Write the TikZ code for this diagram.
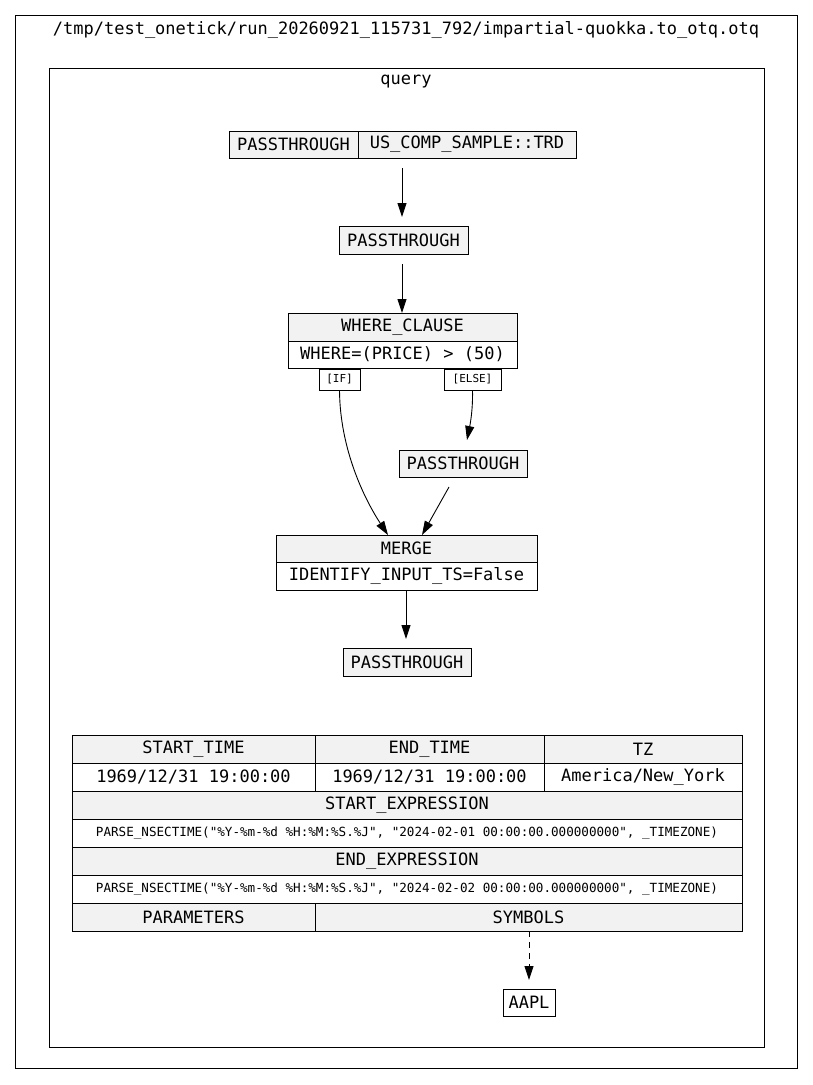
\documentclass[tikz,border=0pt]{standalone}
\usepackage{fontspec}
\setmonofont{DejaVu Sans Mono}
\usetikzlibrary{arrows.meta}
\begin{document}
\begin{tikzpicture}[x=1pt,y=-1pt,
  cell/.style={draw,line width=0.9pt,inner sep=0pt,font=\ttfamily\fontsize{17}{17}\selectfont},
  hd/.style={cell,fill=gray!10},
  wt/.style={cell,fill=white},
  sm/.style={draw,line width=0.9pt,inner sep=0pt,fill=white,font=\ttfamily\fontsize{11}{11}\selectfont},
  arr/.style={line width=0.9pt,-{Triangle[length=14pt,width=9pt]}},
  lbl/.style={font=\ttfamily\fontsize{17}{17}\selectfont}]
\useasboundingbox (0,0) rectangle (813,1085);
\fill[white] (0,0) rectangle (813,1085);
\draw[line width=0.9pt] (15,15) rectangle (797,1068);
\node[lbl] (title) at (406,30) {/tmp/test\_onetick/run\_20260921\_115731\_792/impartial-quokka.to\_otq.otq};
\draw[line width=0.9pt] (49,68) rectangle (764,1047);
\node[lbl] (q) at (406,82) {query};
% node 1
\node[hd,minimum width=129,minimum height=27] (n1a) at (293.5,144.5) {PASSTHROUGH};
\node[hd,minimum width=218,minimum height=27] (n1b) at (467,144.5) {US\_COMP\_SAMPLE::TRD};
\node[hd,minimum width=129,minimum height=28] (p2) at (403.5,240) {PASSTHROUGH};
\node[hd,minimum width=229,minimum height=28] (w1) at (402.5,327) {WHERE\_CLAUSE};
\node[wt,minimum width=229,minimum height=27] (w2) at (402.5,354.5) {WHERE=(PRICE) > (50)};
\node[sm,minimum width=41,minimum height=21] (lif) at (339.5,379.5) {[IF]};
\node[sm,minimum width=57,minimum height=21] (lelse) at (472.5,379.5) {[ELSE]};
\node[hd,minimum width=128,minimum height=27] (p3) at (463,463.5) {PASSTHROUGH};
\node[hd,minimum width=261,minimum height=27] (m1) at (406.5,548.5) {MERGE};
\node[wt,minimum width=261,minimum height=28] (m2) at (406.5,576) {IDENTIFY\_INPUT\_TS=False};
\node[hd,minimum width=128,minimum height=28] (p4) at (407,662) {PASSTHROUGH};
% table
\node[hd,minimum width=243,minimum height=28] (t11) at (193.5,749) {START\_TIME};
\node[hd,minimum width=229,minimum height=28] (t12) at (429.5,749) {END\_TIME};
\node[hd,minimum width=198,minimum height=28] (t13) at (643,749) {TZ};
\node[wt,minimum width=243,minimum height=28] (t21) at (193.5,777) {1969/12/31 19:00:00};
\node[wt,minimum width=229,minimum height=28] (t22) at (429.5,777) {1969/12/31 19:00:00};
\node[wt,minimum width=198,minimum height=28] (t23) at (643,777) {America/New\_York};
\node[hd,minimum width=670,minimum height=28] (t3) at (407,805) {START\_EXPRESSION};
\node[sm,minimum width=670,minimum height=28,font=\ttfamily\fontsize{12.6}{12.6}\selectfont] (t4) at (407,833) {PARSE\_NSECTIME("\%Y-\%m-\%d \%H:\%M:\%S.\%J", "2024-02-01 00:00:00.000000000", \_TIMEZONE)};
\node[hd,minimum width=670,minimum height=28] (t5) at (407,861) {END\_EXPRESSION};
\node[sm,minimum width=670,minimum height=28,font=\ttfamily\fontsize{12.6}{12.6}\selectfont] (t6) at (407,889) {PARSE\_NSECTIME("\%Y-\%m-\%d \%H:\%M:\%S.\%J", "2024-02-02 00:00:00.000000000", \_TIMEZONE)};
\node[hd,minimum width=243,minimum height=28] (t71) at (193.5,917) {PARAMETERS};
\node[hd,minimum width=427,minimum height=28] (t72) at (528.5,917) {SYMBOLS};
\node[wt,minimum width=52,minimum height=27] (aapl) at (529,1002.5) {AAPL};
% edges
\coordinate (e1s) at (402,168); \coordinate (e1e) at (402,217);
\draw[arr] (e1s) -- (e1e);
\coordinate (e2s) at (402,264); \coordinate (e2e) at (402,313);
\draw[arr] (e2s) -- (e2e);
\coordinate (mt1) at (388,535); \coordinate (mt2) at (422,535);
\draw[arr] (lif.south) .. controls (340,450) and (365,500) .. (mt1);
\coordinate (p3t) at (467,440);
\draw[arr] (lelse.south) .. controls (473,410) and (470,425) .. (p3t);
\coordinate (p3b) at (449,487);
\draw[arr] (p3b) -- (mt2);
\coordinate (e5s) at (406,590); \coordinate (e5e) at (406,639);
\draw[arr] (e5s) -- (e5e);
\coordinate (e6s) at (529,931); \coordinate (e6e) at (529,980);
\draw[arr,dash pattern=on 6pt off 5pt] (e6s) -- (e6e);
\end{tikzpicture}
\end{document}
